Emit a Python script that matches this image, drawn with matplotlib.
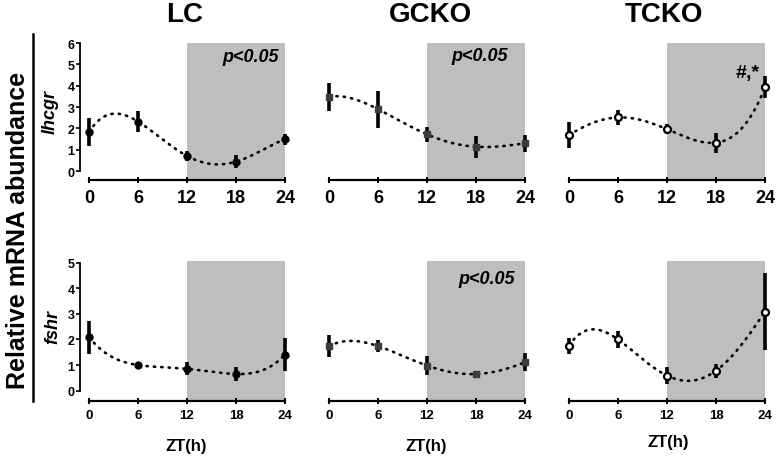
import numpy as np
import matplotlib
matplotlib.use("Agg")
import matplotlib.pyplot as plt
from matplotlib.lines import Line2D

plt.rcParams['font.family'] = ['Liberation Sans', 'DejaVu Sans']
plt.rcParams['font.weight'] = 'bold'

# ---- data ----
zt = [0, 6, 12, 18, 24]
xticks = [0, 6, 12, 18, 24]
groups = ["LC", "GCKO", "TCKO"]
genes = ["lhcgr", "fshr"]

lc_lhcgr = [1.83, 2.32, 0.71, 0.44, 1.49]
lc_lhcgr_err = [0.66, 0.50, 0.24, 0.30, 0.26]
gcko_lhcgr = [3.48, 2.90, 1.72, 1.14, 1.30]
gcko_lhcgr_err = [0.65, 0.87, 0.35, 0.52, 0.40]
tcko_lhcgr = [1.68, 2.51, 1.96, 1.33, 3.92]
tcko_lhcgr_err = [0.62, 0.33, 0.24, 0.47, 0.52]

lc_fshr = [2.09, 1.00, 0.85, 0.65, 1.41]
lc_fshr_err = [0.65, 0.05, 0.25, 0.29, 0.65]
gcko_fshr = [1.74, 1.74, 0.98, 0.65, 1.11]
gcko_fshr_err = [0.44, 0.24, 0.38, 0.06, 0.35]
tcko_fshr = [1.76, 2.00, 0.59, 0.78, 3.09]
tcko_fshr_err = [0.31, 0.33, 0.33, 0.28, 1.52]

values = {
    ("lhcgr", "LC"): (lc_lhcgr, lc_lhcgr_err),
    ("lhcgr", "GCKO"): (gcko_lhcgr, gcko_lhcgr_err),
    ("lhcgr", "TCKO"): (tcko_lhcgr, tcko_lhcgr_err),
    ("fshr", "LC"): (lc_fshr, lc_fshr_err),
    ("fshr", "GCKO"): (gcko_fshr, gcko_fshr_err),
    ("fshr", "TCKO"): (tcko_fshr, tcko_fshr_err),
}

# ---- figure ----
W, H = 777, 460
fig = plt.figure(figsize=(W / 100, H / 100), dpi=100)

lefts = [80 / W, 320 / W, 560 / W]
width = 205 / W
row_geom = {
    "lhcgr": dict(bottom=1 - 181 / H, height=137 / H, ylim=(-0.42, 6.0), ymax=6,
                  xfs=13, yfs=9, xpad=4),
    "fshr": dict(bottom=1 - 402.4 / H, height=140 / H, ylim=(-0.42, 5.05), ymax=5,
                 xfs=9.5, yfs=9, xpad=3),
}

styles = {
    "LC": dict(marker="o", mfc="black", mec="black", ms=5, mew=1),
    "GCKO": dict(marker="s", mfc="#3c3c3c", mec="#3c3c3c", ms=5, mew=1),
    "TCKO": dict(marker="o", mfc="white", mec="black", ms=5, mew=1.6),
}

for gene in genes:
    g = row_geom[gene]
    for gi, grp in enumerate(groups):
        ax = fig.add_axes([lefts[gi], g["bottom"], width, g["height"]])
        ax.set_xlim(-1.1, 24)
        ax.set_ylim(*g["ylim"])
        ax.axvspan(12, 24, color="#bebebe", lw=0, zorder=0)
        y, e = values[(gene, grp)]
        coef = np.polyfit(zt, y, 4)
        xs = np.linspace(0, 24, 300)
        ax.plot(xs, np.polyval(coef, xs), color="black", lw=1.9,
                linestyle=(0, (0.5, 2.3)), dash_capstyle="round", zorder=2, clip_on=False)
        ax.errorbar(zt, y, yerr=e, fmt="none", ecolor="black", elinewidth=2.6,
                    capsize=0, zorder=3, clip_on=False)
        st = styles[grp]
        ax.plot(zt, y, linestyle="none", zorder=4, clip_on=False, **st)

        for s in ["top", "right"]:
            ax.spines[s].set_visible(False)
        ax.spines["bottom"].set_bounds(0, 24)
        ax.spines["bottom"].set_linewidth(1.6)
        ax.set_xticks(xticks)
        ax.set_xticklabels([str(t) for t in xticks], fontsize=g["xfs"], fontweight="bold")
        ax.tick_params(axis="x", direction="inout", length=5, width=1.4, pad=g["xpad"])
        if gi == 0:
            ax.spines["left"].set_bounds(0, g["ymax"])
            ax.spines["left"].set_linewidth(1.3)
            yt = list(range(0, g["ymax"] + 1))
            ax.set_yticks(yt)
            ax.set_yticklabels([str(t) for t in yt], fontsize=g["yfs"], fontweight="bold")
            ax.tick_params(axis="y", direction="out", length=3, width=1.2, pad=1)
        else:
            ax.spines["left"].set_visible(False)
            ax.set_yticks([])
        ax.set_facecolor("none")

        if (gene, grp) in [("lhcgr", "LC")]:
            ax.text(19.8, 5.35, "p<0.05", fontsize=13, fontweight="bold", style="italic",
                    ha="center", va="center")
        if (gene, grp) in [("lhcgr", "GCKO")]:
            ax.text(18.4, 5.4, "p<0.05", fontsize=13, fontweight="bold", style="italic",
                    ha="center", va="center")
        if (gene, grp) in [("fshr", "GCKO")]:
            ax.text(19.3, 4.4, "p<0.05", fontsize=13, fontweight="bold", style="italic",
                    ha="center", va="center")
        if (gene, grp) in [("lhcgr", "TCKO")]:
            ax.text(21.9, 4.62, "#,*", fontsize=14, fontweight="bold",
                    ha="center", va="center")

# titles
for x, t in zip([185, 430, 664], groups):
    fig.text(x / W, 1 - 15 / H, t, fontsize=20, fontweight="bold", ha="center", va="center")
# ZT(h)
for x, yy in zip([186, 426, 668], [447, 447, 443]):
    fig.text(x / W, 1 - yy / H, "ZT(h)", fontsize=12, fontweight="bold", ha="center", va="center")
# gene labels
fig.text(50 / W, 1 - 112 / H, "lhcgr", fontsize=13, fontweight="bold", style="italic",
         rotation=90, ha="center", va="center")
fig.text(53 / W, 1 - 327 / H, "fshr", fontsize=13, fontweight="bold", style="italic",
         rotation=90, ha="center", va="center")
# overall y label
fig.text(18 / W, 1 - 230 / H, "Relative mRNA abundance", fontsize=18, fontweight="bold",
         rotation=90, ha="center", va="center")
fig.add_artist(Line2D([33 / W, 33 / W], [1 - 35 / H, 1 - 402 / H], color="black", lw=1.8,
                      transform=fig.transFigure))

fig.savefig("out.png", dpi=100)
